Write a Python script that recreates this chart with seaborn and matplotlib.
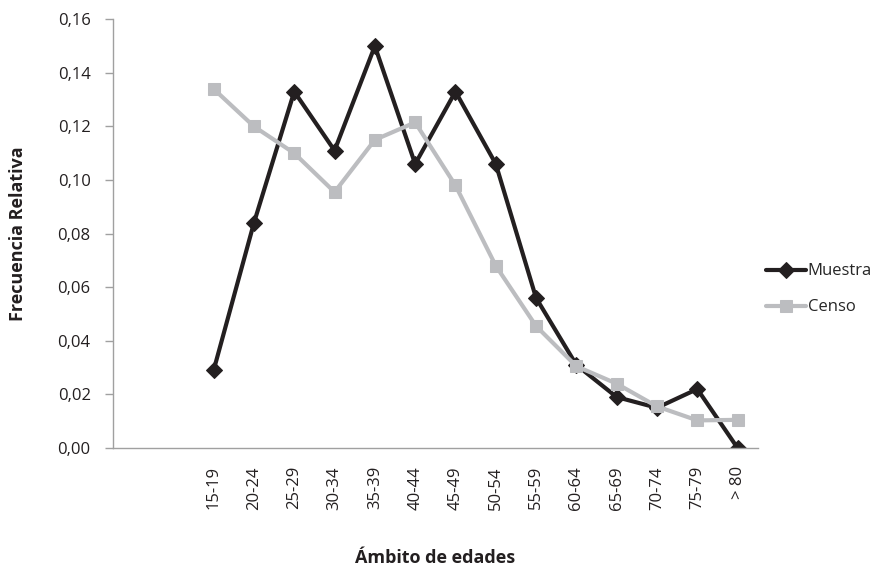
import matplotlib; matplotlib.use('Agg')
import pandas as pd
import numpy as np
import seaborn as sns
import matplotlib.pyplot as plt
from matplotlib.ticker import FuncFormatter

# age groups and relative frequencies
age_groups = ['15-19', '20-24', '25-29', '30-34', '35-39', '40-44', '45-49',
              '50-54', '55-59', '60-64', '65-69', '70-74', '75-79', '> 80']
muestra = [0.029, 0.084, 0.133, 0.111, 0.150, 0.106, 0.133,
           0.106, 0.056, 0.031, 0.019, 0.015, 0.022, 0.000]
censo = [0.134, 0.120, 0.110, 0.0955, 0.115, 0.1215, 0.098,
         0.068, 0.0455, 0.0305, 0.024, 0.0155, 0.0103, 0.0105]
yticks = [0.00, 0.02, 0.04, 0.06, 0.08, 0.10, 0.12, 0.14, 0.16]

sns.set_style('white')
plt.rcParams['font.family'] = ['Open Sans', 'DejaVu Sans']

df = pd.DataFrame({'edad': age_groups, 'Muestra': muestra, 'Censo': censo})

fig = plt.figure(figsize=(8.75, 5.66), dpi=100)
ax = fig.add_axes([0.129, 0.2085, 0.737, 0.7575])

dark = '#231f20'
gray = '#bcbdc0'
sns.lineplot(data=df, x='edad', y='Muestra', ax=ax, color=dark, linewidth=3,
             marker='D', markersize=8.5, markeredgecolor=dark, label='Muestra', sort=False)
sns.lineplot(data=df, x='edad', y='Censo', ax=ax, color=gray, linewidth=3,
             marker='s', markersize=9, markeredgecolor=gray, label='Censo', sort=False)

ax.set_xlim(-2.5, len(age_groups) - 0.5)
ax.set_ylim(0, 0.16)
ax.set_yticks(yticks)
ax.yaxis.set_major_formatter(FuncFormatter(lambda v, p: f'{v:.2f}'.replace('.', ',')))
ax.tick_params(axis='x', rotation=90, labelsize=12, length=0, pad=13, colors=dark)
ax.tick_params(axis='y', labelsize=12, length=6, width=1, color='#a0a0a0',
               left=True, pad=10, labelcolor=dark)

for s in ['top', 'right']:
    ax.spines[s].set_visible(False)
for s in ['left', 'bottom']:
    ax.spines[s].set_color('#a0a0a0')
    ax.spines[s].set_linewidth(1)

ax.set_xlabel('Ámbito de edades', fontsize=13, fontweight='bold', labelpad=28, color=dark)
ax.set_ylabel('Frecuencia Relativa', fontsize=13, fontweight='bold', labelpad=22, color=dark)

ax.legend(loc='center left', bbox_to_anchor=(0.995, 0.37), frameon=False, fontsize=12,
          handlelength=2.4, handletextpad=0.1, labelspacing=1.2, borderaxespad=0.3)

fig.savefig('out.png', dpi=100)
